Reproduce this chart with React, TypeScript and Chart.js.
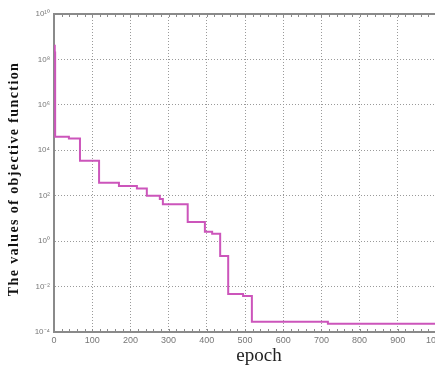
import React, { useEffect, useRef } from 'react';
import { Chart, registerables } from 'chart.js';

Chart.register(...registerables);

// Epoch at which each level starts (stepped function), and the value held from it
const epochs = [0, 2, 3, 39, 68, 118, 170, 217, 243, 277, 285, 350, 395, 414, 435, 456, 495, 518, 717, 1000];
const objectiveValues = [4e8, 2e8, 3.9e4, 3.3e4, 3.5e3, 370, 265, 210, 100, 71, 42, 6.9, 2.6, 2.1, 0.22, 0.0047, 0.0038, 2.8e-4, 2.3e-4, 2.3e-4];

const yTickValues = [1e-4, 1e-2, 1e0, 1e2, 1e4, 1e6, 1e8, 1e10];
const yTickLabels = ['10⁻⁴', '10⁻²', '10⁰', '10²', '10⁴', '10⁶', '10⁸', '10¹⁰'];
const xMin = 0;
const xMax = 1000;
const xMajorStep = 100;
const xMinorStep = 20;

const yTitle = 'The values of objective function';
const xTitle = 'epoch';

const AXIS_COLOR = '#8a8a8a';
const GRID_COLOR = '#9a9a9a';
const LINE_COLOR = '#cc55bb';
const TICK_FONT = "'Liberation Sans Narrow', 'Liberation Sans', Arial, sans-serif";

const framePlugin = {
  id: 'frameAndTitles',
  afterDatasetsDraw(chart: any) {
    const { ctx, chartArea, scales } = chart;
    const xs = scales.x;
    ctx.save();
    ctx.strokeStyle = AXIS_COLOR;
    ctx.lineWidth = 2;
    ctx.beginPath();
    ctx.moveTo(chartArea.left - 1, chartArea.top);
    ctx.lineTo(chartArea.right + 1, chartArea.top);
    ctx.stroke();
    ctx.lineWidth = 1;
    ctx.beginPath();
    for (let v = xMin; v <= xMax; v += xMinorStep) {
      const px = Math.round(xs.getPixelForValue(v)) + 0.5;
      ctx.moveTo(px, chartArea.bottom);
      ctx.lineTo(px, chartArea.bottom - 3);
      ctx.moveTo(px, chartArea.top);
      ctx.lineTo(px, chartArea.top + 3);
    }
    ctx.stroke();
    ctx.restore();
  },
  afterDraw(chart: any) {
    const { ctx, chartArea } = chart;
    ctx.save();
    ctx.fillStyle = '#111';
    ctx.font = "bold 14px 'Liberation Serif', 'Times New Roman', serif";
    (ctx as any).letterSpacing = '1.4px';
    ctx.textAlign = 'center';
    ctx.textBaseline = 'middle';
    ctx.translate(14, 179);
    ctx.rotate(-Math.PI / 2);
    ctx.fillText(yTitle, 0, 0);
    ctx.restore();
    ctx.save();
    ctx.fillStyle = '#222';
    ctx.font = "19px 'Liberation Serif', 'Times New Roman', serif";
    ctx.textAlign = 'center';
    ctx.textBaseline = 'middle';
    ctx.fillText(xTitle, (chartArea.left + chartArea.right) / 2 + 14, chartArea.bottom + 24);
    ctx.restore();
  },
};

export default function App() {
  const ref = useRef<HTMLCanvasElement>(null);
  useEffect(() => {
    const points = epochs.map((e, i) => ({ x: e, y: objectiveValues[i] }));
    const chart = new Chart(ref.current as HTMLCanvasElement, {
      type: 'line',
      data: {
        datasets: [
          {
            data: points,
            borderColor: LINE_COLOR,
            borderWidth: 2,
            pointRadius: 0,
            stepped: 'before',
            fill: false,
          },
        ],
      },
      options: {
        responsive: false,
        animation: false,
        devicePixelRatio: 1,
        layout: { padding: { left: 0, right: 14, top: 14, bottom: 0 } },
        plugins: { legend: { display: false }, tooltip: { enabled: false } },
        scales: {
          x: {
            type: 'linear',
            min: xMin,
            max: xMax,
            ticks: {
              stepSize: xMajorStep,
              color: '#777',
              font: { family: TICK_FONT, size: 9 },
              padding: 3,
              maxRotation: 0,
              callback: (value: any) => String(value),
            },
            grid: {
              color: GRID_COLOR,
              lineWidth: 1,
              drawTicks: false,
            },
            border: { color: AXIS_COLOR, width: 2, dash: [1, 2] },
            afterFit: (scale: any) => {
              scale.height = 36;
            },
          },
          y: {
            type: 'logarithmic',
            min: yTickValues[0],
            max: yTickValues[yTickValues.length - 1],
            afterBuildTicks: (scale: any) => {
              scale.ticks = yTickValues.map((v) => ({ value: v }));
            },
            ticks: {
              color: '#777',
              font: { family: TICK_FONT, size: 8 },
              padding: 4,
              callback: (value: any) => {
                const idx = yTickValues.findIndex((v) => Math.abs(Math.log10(v) - Math.log10(Number(value))) < 1e-6);
                return idx >= 0 ? yTickLabels[idx] : '';
              },
            },
            grid: {
              color: GRID_COLOR,
              lineWidth: 1,
              drawTicks: false,
            },
            border: { color: AXIS_COLOR, width: 2, dash: [1, 2] },
            afterFit: (scale: any) => {
              scale.width = 54;
            },
          },
        },
      },
      plugins: [framePlugin],
    });
    return () => chart.destroy();
  }, []);
  return (
    <div
      style={{
        position: 'fixed',
        left: 0,
        top: 0,
        width: 435,
        height: 368,
        overflow: 'hidden',
        background: '#fff',
      }}
    >
      <canvas ref={ref} width={450} height={368} style={{ display: 'block' }} />
    </div>
  );
}
